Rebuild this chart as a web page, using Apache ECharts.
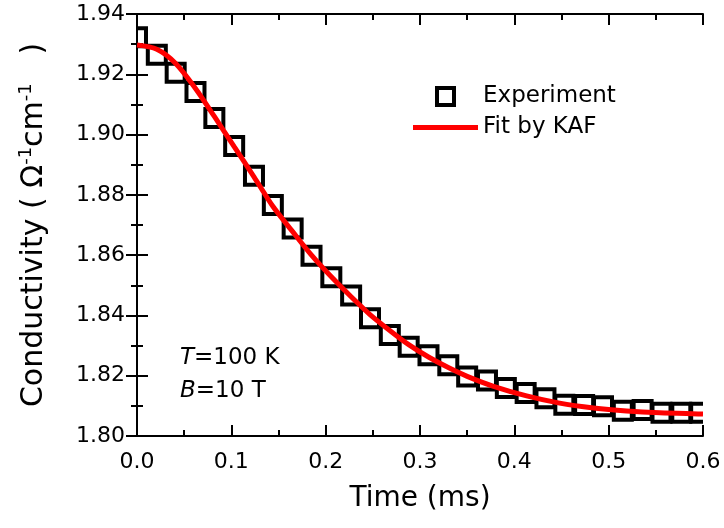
<!DOCTYPE html>
<html>
<head>
<meta charset="utf-8">
<script src="https://cdn.jsdelivr.net/npm/echarts@6/dist/echarts.min.js"></script>
<style>html,body{margin:0;padding:0;background:#fff}#c{width:724px;height:528px}</style>
</head>
<body>
<div id="c"></div>
<script>
// Experiment (squares)
var expTime = [0, 0.021, 0.041, 0.062, 0.082, 0.103, 0.124, 0.144, 0.165, 0.185,
  0.206, 0.227, 0.247, 0.268, 0.288, 0.309, 0.330, 0.350, 0.371, 0.391,
  0.412, 0.433, 0.453, 0.474, 0.494, 0.515, 0.536, 0.556, 0.577, 0.597];
var expCond = [1.9323, 1.9265, 1.9205, 1.9141, 1.9055, 1.8962, 1.8863, 1.8766, 1.8688, 1.8598,
  1.8527, 1.8466, 1.8391, 1.8335, 1.8296, 1.8268, 1.8235, 1.8197, 1.8184, 1.8159,
  1.8143, 1.8125, 1.8104, 1.8103, 1.8099, 1.8084, 1.8086, 1.8077, 1.8077, 1.8077];
// Fit by KAF (red line)
var fitTime = [0, 0.021, 0.041, 0.062, 0.082, 0.103, 0.124, 0.144, 0.165, 0.185,
  0.206, 0.227, 0.247, 0.268, 0.288, 0.309, 0.330, 0.350, 0.378, 0.413,
  0.448, 0.484, 0.519, 0.554, 0.600];
var fitCond = [1.9297, 1.9283, 1.9236, 1.9153, 1.9060, 1.8960, 1.8860, 1.8762, 1.8678, 1.8600,
  1.8528, 1.8462, 1.8403, 1.8350, 1.8303, 1.8262, 1.8227, 1.8198, 1.8165, 1.8133,
  1.8109, 1.8093, 1.8083, 1.8077, 1.8073];
var seriesNames = ['Experiment', 'Fit by KAF'];
var xTitle = 'Time (ms)';
var yTitle = 'Conductivity ( \u03A9{sup|-1}cm{sup|-1}   )';
var annotLines = ['{i|T}=100 K', '{i|B}=10 T'];

var FONT = 'DejaVu Sans';
var expData = expTime.map(function (t, i) { return [t, expCond[i]]; });
var fitData = fitTime.map(function (t, i) { return [t, fitCond[i]]; });

function axisCommon(showLabel, isX) {
  return {
    type: 'value',
    min: isX ? 0 : 1.80,
    max: isX ? 0.6 : 1.94,
    interval: isX ? 0.1 : 0.02,
    axisLine: { show: true, lineStyle: { color: '#000', width: 2 } },
    axisTick: { show: true, inside: true, length: 11, lineStyle: { color: '#000', width: 2 } },
    minorTick: { show: true, splitNumber: 2, length: 6, lineStyle: { color: '#000', width: 2 } },
    splitLine: { show: false },
    minorSplitLine: { show: false },
    axisLabel: {
      show: showLabel, color: '#000', fontFamily: FONT, fontSize: 22, margin: isX ? 15 : 12,
      formatter: function (v) { return isX ? v.toFixed(1) : v.toFixed(2); }
    }
  };
}

var xMain = axisCommon(true, true);
xMain.position = 'bottom';
xMain.name = xTitle;
xMain.nameLocation = 'middle';
xMain.nameGap = 49;
xMain.nameTextStyle = { color: '#000', fontFamily: FONT, fontSize: 28 };
var xTop = axisCommon(false, true);
xTop.position = 'top';

var yMain = axisCommon(true, false);
yMain.position = 'left';
yMain.name = yTitle;
yMain.nameLocation = 'middle';
yMain.nameGap = 86;
yMain.nameTextStyle = {
  color: '#000', fontFamily: FONT, fontSize: 30,
  rich: { sup: { color: '#000', fontFamily: FONT, fontSize: 18, padding: [0, 0, 16, 0] } }
};
var yRight = axisCommon(false, false);
yRight.position = 'right';

var option = {
  backgroundColor: '#fff',
  animation: false,
  grid: { left: 137, right: 21, top: 14, bottom: 92 },
  xAxis: [xMain, xTop],
  yAxis: [yMain, yRight],
  legend: {
    orient: 'vertical', left: 413, top: 85, padding: 0,
    itemWidth: 65, itemHeight: 17, itemGap: 8,
    textStyle: { color: '#000', fontFamily: FONT, fontSize: 23 },
    data: [
      { name: seriesNames[0], icon: 'path://M0,0L10,0L10,10L0,10Z',
        itemStyle: { color: '#fff', borderColor: '#000', borderWidth: 4 } },
      { name: seriesNames[1], icon: 'path://M0,0L13,0L13,1L0,1Z',
        itemStyle: { color: '#ff0000', borderWidth: 0 } }
    ]
  },
  graphic: [{
    type: 'text', left: 180, top: 342,
    style: {
      text: annotLines.join('\n'), fill: '#000', fontFamily: FONT, fontSize: 23, lineHeight: 33,
      rich: { i: { fontStyle: 'italic', fontFamily: FONT, fontSize: 23, fill: '#000' } }
    }
  }],
  series: [
    {
      name: seriesNames[0],
      type: 'custom',
      clip: true,
      z: 2,
      itemStyle: { color: '#000' },
      data: expData,
      renderItem: function (params, api) {
        var p = api.coord([api.value(0), api.value(1)]);
        var s = 18;
        return {
          type: 'rect',
          shape: { x: p[0] - s / 2, y: p[1] - s / 2, width: s, height: s },
          style: { fill: 'none', stroke: '#000', lineWidth: 4 }
        };
      }
    },
    {
      name: seriesNames[1],
      type: 'line',
      symbol: 'none',
      smooth: 0.3,
      clip: true,
      z: 3,
      data: fitData,
      itemStyle: { color: '#ff0000' },
      lineStyle: { color: '#ff0000', width: 5 }
    }
  ]
};
var chart = echarts.init(document.getElementById('c'), null, { renderer: 'canvas' });
chart.setOption(option);
</script>
</body>
</html>
